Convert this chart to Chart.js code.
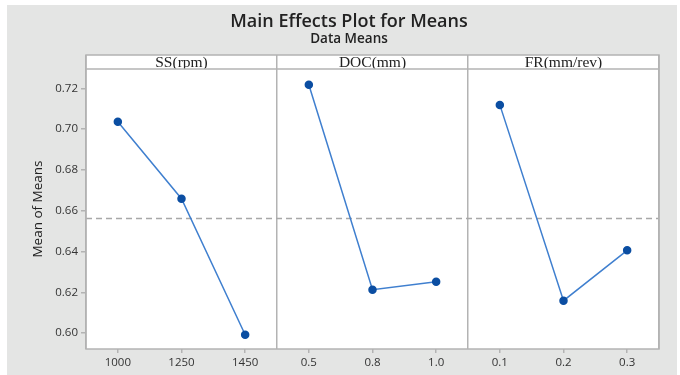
<!DOCTYPE html>
<html>
<head>
<meta charset="utf-8">
<script src="https://cdn.jsdelivr.net/npm/chart.js@4.4.1/dist/chart.umd.min.js"></script>
<style>
  body { margin: 0; background: #fff; width: 680px; height: 375px; overflow: hidden; }
  #box { position: absolute; left: 7px; top: 5px; width: 670px; height: 370px; background: #e4e5e4; }
  #title { position: absolute; left: 149px; top: 9px; width: 400px; text-align: center;
           font-family: "Open Sans", sans-serif; font-weight: 600; font-size: 18px; color: #222; line-height: 22px; }
  #subtitle { position: absolute; left: 149px; top: 30px; width: 400px; text-align: center;
              font-family: "Open Sans", sans-serif; font-weight: 600; font-size: 13.5px; color: #222; line-height: 16px; }
  canvas { position: absolute; left: 0; top: 0; }
</style>
</head>
<body>
<div id="box">
  <canvas id="chart" width="670" height="370"></canvas>
</div>
<div id="title">Main Effects Plot for Means</div>
<div id="subtitle">Data Means</div>
<script>
// --- datos ---
const factorNames = ['SS(rpm)', 'DOC(mm)', 'FR(mm/rev)'];
const ssLevels = ['1000', '1250', '1450'];
const ssMeans = [0.7036, 0.6659, 0.5992];
const docLevels = ['0.5', '0.8', '1.0'];
const docMeans = [0.7218, 0.6213, 0.6252];
const frLevels = ['0.1', '0.2', '0.3'];
const frMeans = [0.7119, 0.6159, 0.6406];
const yTicks = [0.60, 0.62, 0.64, 0.66, 0.68, 0.70, 0.72];

const allLevels = [...ssLevels, ...docLevels, ...frLevels];
const allMeans = [...ssMeans, ...docMeans, ...frMeans];
const grandMean = allMeans.reduce((a, b) => a + b, 0) / allMeans.length;

const frameColor = '#b3b3b3';
const lineColor = '#3f7fcf';
const pointColor = '#0b4ea2';

const toPoints = (levels, means) => levels.map((l, i) => ({ x: l, y: means[i] }));

const seriesStyle = {
  xAxisID: 'x',
  borderColor: lineColor,
  borderWidth: 1.5,
  pointBackgroundColor: pointColor,
  pointBorderColor: pointColor,
  pointRadius: 3.5,
  tension: 0,
  clip: false
};

// fondo blanco del área y marco gris de los paneles
const panelFrame = {
  id: 'panelFrame',
  beforeDraw(chart) {
    const { ctx, chartArea: a, scales } = chart;
    const top = scales.xTop.top;
    ctx.save();
    ctx.fillStyle = '#fff';
    ctx.fillRect(a.left, top, a.right - a.left, a.bottom - top);
    ctx.restore();
  },
  afterDraw(chart) {
    const { ctx, chartArea: a, scales } = chart;
    const top = scales.xTop.top;
    ctx.save();
    ctx.strokeStyle = frameColor;
    ctx.lineWidth = 1.5;
    ctx.strokeRect(a.left, top, a.right - a.left, a.bottom - top);
    ctx.beginPath();
    ctx.moveTo(a.left, a.top);
    ctx.lineTo(a.right, a.top);
    ctx.stroke();
    ctx.restore();
  }
};

new Chart(document.getElementById('chart'), {
  type: 'line',
  data: {
    datasets: [
      { ...seriesStyle, data: toPoints(ssLevels, ssMeans) },
      { ...seriesStyle, data: toPoints(docLevels, docMeans) },
      { ...seriesStyle, data: toPoints(frLevels, frMeans) },
      {
        xAxisID: 'xm',
        data: [{ x: 0, y: grandMean }, { x: 1, y: grandMean }],
        borderColor: '#a8a8a8',
        borderWidth: 1.5,
        borderDash: [6, 4],
        pointRadius: 0
      }
    ]
  },
  options: {
    responsive: false,
    animation: false,
    layout: { padding: { left: 0, top: 50, right: 18, bottom: 0 } },
    plugins: { legend: { display: false }, tooltip: { enabled: false } },
    scales: {
      x: {
        type: 'category',
        labels: allLevels,
        position: 'bottom',
        offset: true,
        border: { display: false },
        grid: { drawOnChartArea: false, offset: false, tickLength: 4, color: frameColor, lineWidth: 1.5 },
        ticks: { color: '#333', padding: 3, font: { family: 'Open Sans', size: 11.5 }, maxRotation: 0 },
        afterFit: (s) => { s.height = 26; }
      },
      xTop: {
        type: 'category',
        labels: factorNames,
        position: 'top',
        offset: true,
        border: { display: false },
        grid: { offset: true, tickLength: 14, color: frameColor, lineWidth: 1.5 },
        ticks: { color: '#222', padding: -15.5, font: { family: 'Liberation Serif', size: 15.5, lineHeight: 1 }, maxRotation: 0 },
        afterFit: (s) => { s.height = 14; }
      },
      xm: { type: 'linear', display: false, min: 0, max: 1 },
      y: {
        min: 0.5922,
        max: 0.7295,
        border: { display: false },
        grid: { drawOnChartArea: false, tickLength: 5, color: frameColor, lineWidth: 1.5 },
        afterBuildTicks: (axis) => { axis.ticks = yTicks.map(v => ({ value: v })); },
        ticks: {
          color: '#333',
          padding: 3,
          font: { family: 'Open Sans', size: 11.5 },
          callback: (v) => Number(v).toFixed(2)
        },
        title: {
          display: true,
          text: 'Mean of Means',
          color: '#222',
          font: { family: 'Open Sans', size: 13.5 },
          padding: { top: 23, bottom: 0 }
        },
        afterFit: (s) => { s.width = 79; }
      }
    }
  },
  plugins: [panelFrame]
});
</script>
</body>
</html>
